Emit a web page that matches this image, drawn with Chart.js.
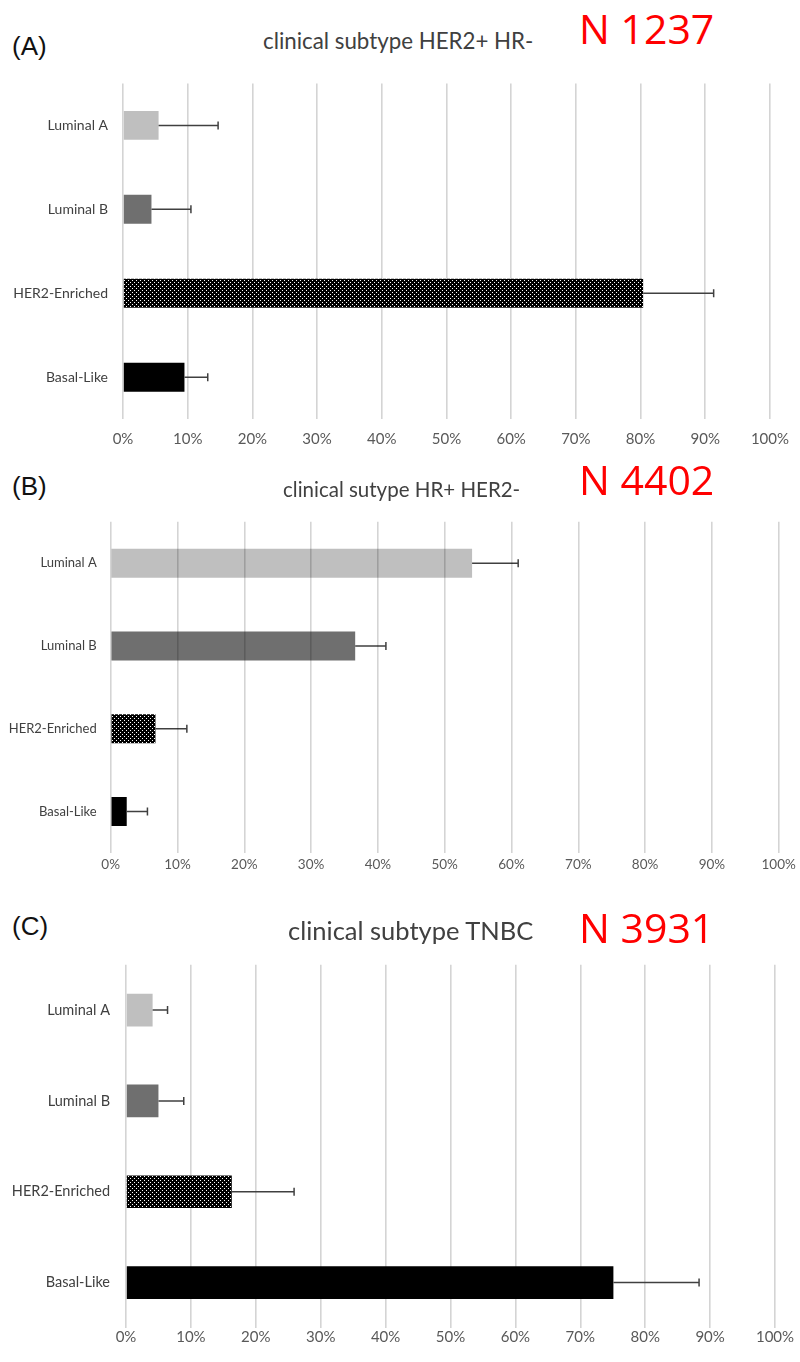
<!DOCTYPE html>
<html>
<head>
<meta charset="utf-8">
<script src="https://cdn.jsdelivr.net/npm/chart.js@4/dist/chart.umd.min.js"></script>
<style>
  body { margin: 0; background: #fff; width: 800px; height: 1362px; position: relative; overflow: hidden; }
  canvas { position: absolute; left: 0; }
  .lbl { position: absolute; white-space: nowrap; line-height: 1; }
  .panel { font-family: "Liberation Sans", Arial, sans-serif; font-size: 26px; color: #111; left: 12px; }
  .ttl { font-family: Lato, "Open Sans", sans-serif; color: #404040; }
  .nn { font-family: "Open Sans", sans-serif; font-size: 41px; color: #ff0000; left: 579px; }
</style>
</head>
<body>
<div class="lbl panel" style="top:33px">(A)</div>
<div class="lbl ttl" style="top:30px;left:263px;font-size:22.3px">clinical subtype HER2+ HR-</div>
<div class="lbl nn" style="top:8px">N 1237</div>
<canvas id="chartA" width="800" height="400" style="top:60px"></canvas>

<div class="lbl panel" style="top:473px">(B)</div>
<div class="lbl ttl" style="top:479px;left:283px;font-size:20.5px">clinical sutype HR+ HER2-</div>
<div class="lbl nn" style="top:459px">N 4402</div>
<canvas id="chartB" width="800" height="400" style="top:500px"></canvas>

<div class="lbl panel" style="top:913px">(C)</div>
<div class="lbl ttl" style="top:918px;left:288px;font-size:25.5px">clinical subtype TNBC</div>
<div class="lbl nn" style="top:907px">N 3931</div>
<canvas id="chartC" width="800" height="420" style="top:940px"></canvas>

<script>
var categories = ["Luminal A", "Luminal B", "HER2-Enriched", "Basal-Like"];
var xTicks = [0, 10, 20, 30, 40, 50, 60, 70, 80, 90, 100];

// (A) HER2+ HR-
var her2Values = [5.5, 4.4, 80.4, 9.5];
var her2Upper = [14.7, 10.5, 91.3, 13.1];
// (B) HR+ HER2-
var hrValues = [54.1, 36.6, 6.7, 2.4];
var hrUpper = [61.0, 41.2, 11.4, 5.5];
// (C) TNBC
var tnbcValues = [4.1, 5.0, 16.3, 75.1];
var tnbcUpper = [6.4, 8.9, 25.9, 88.3];

function makePattern(){
  var c = document.createElement("canvas");
  c.width = 4; c.height = 4;
  var x = c.getContext("2d");
  x.fillStyle = "#000";
  x.fillRect(0, 0, 4, 4);
  x.fillStyle = "#fff";
  x.fillRect(0, 0, 1, 1);
  x.fillRect(2, 2, 1, 1);
  return x.createPattern(c, "repeat");
}
var dotted = makePattern();
var barColors = ["#bfbfbf", "#6f6f6f", dotted, "#000000"];

// error bars: only the upper whisker, drawn through the x scale
var errorBars = {
  id: "errorBars",
  afterDatasetsDraw: function(chart){
    var upper = chart.options.plugins.errorBars.upper;
    var ctx = chart.ctx;
    var meta = chart.getDatasetMeta(0);
    var xs = chart.scales.x;
    ctx.save();
    ctx.strokeStyle = "#404040";
    ctx.lineWidth = 1.5;
    meta.data.forEach(function(bar, i){
      var x0 = bar.x;
      var x1 = xs.getPixelForValue(upper[i]);
      ctx.beginPath();
      ctx.moveTo(x0, bar.y);
      ctx.lineTo(x1, bar.y);
      ctx.moveTo(x1, bar.y - 4);
      ctx.lineTo(x1, bar.y + 4);
      ctx.stroke();
    });
    ctx.restore();
  }
};

function makePanel(id, top, canvasH, area, values, upper, opts){
  var xAxisH = 40;
  new Chart(document.getElementById(id), {
    type: "bar",
    data: {
      labels: categories,
      datasets: [{
        data: values,
        backgroundColor: barColors,
        borderWidth: 0,
        categoryPercentage: 1,
        barPercentage: opts.barPct
      }]
    },
    options: {
      indexAxis: "y",
      responsive: false,
      animation: false,
      layout: {
        padding: {
          left: 0,
          right: 800 - area.right,
          top: area.top - top,
          bottom: canvasH - (area.bottom - top) - xAxisH
        }
      },
      plugins: {
        legend: { display: false },
        tooltip: { enabled: false },
        errorBars: { upper: upper }
      },
      scales: {
        x: {
          min: 0, max: 100,
          afterBuildTicks: function(s){ s.ticks = xTicks.map(function(v){ return { value: v }; }); },
          afterFit: function(s){ s.height = xAxisH; },
          grid: { color: opts.gridColor, lineWidth: 1.6, drawTicks: false, z: opts.gridZ },
          border: { display: false },
          ticks: {
            padding: opts.tickPad,
            color: "#595959",
            font: { family: "Lato", size: opts.tickSize },
            callback: function(v){ return v + "%"; }
          }
        },
        y: {
          afterFit: function(s){ s.width = area.left; },
          grid: { display: false, drawTicks: false },
          border: { display: false },
          ticks: {
            padding: opts.labelPad,
            color: "#404040",
            font: { family: "Lato", size: opts.labelSize }
          }
        }
      }
    },
    plugins: [errorBars]
  });
}

makePanel("chartA", 60, 400, { left: 123, right: 780, top: 77.75, bottom: 419.25 },
  her2Values, her2Upper,
  { barPct: 0.345, gridColor: "#d4d4d4", gridZ: 0, tickPad: 11, tickSize: 15, labelSize: 14, labelPad: 15 });

makePanel("chartB", 500, 400, { left: 110.7, right: 778.7, top: 521, bottom: 853 },
  hrValues, hrUpper,
  { barPct: 0.35, gridColor: "rgba(0,0,0,0.17)", gridZ: 1, tickPad: 4, tickSize: 13.5, labelSize: 13, labelPad: 14 });

makePanel("chartC", 940, 420, { left: 126, right: 775, top: 962, bottom: 1328 },
  tnbcValues, tnbcUpper,
  { barPct: 0.36, gridColor: "#d4d4d4", gridZ: 0, tickPad: 0, tickSize: 15, labelSize: 14.5, labelPad: 16 });
</script>
</body>
</html>
